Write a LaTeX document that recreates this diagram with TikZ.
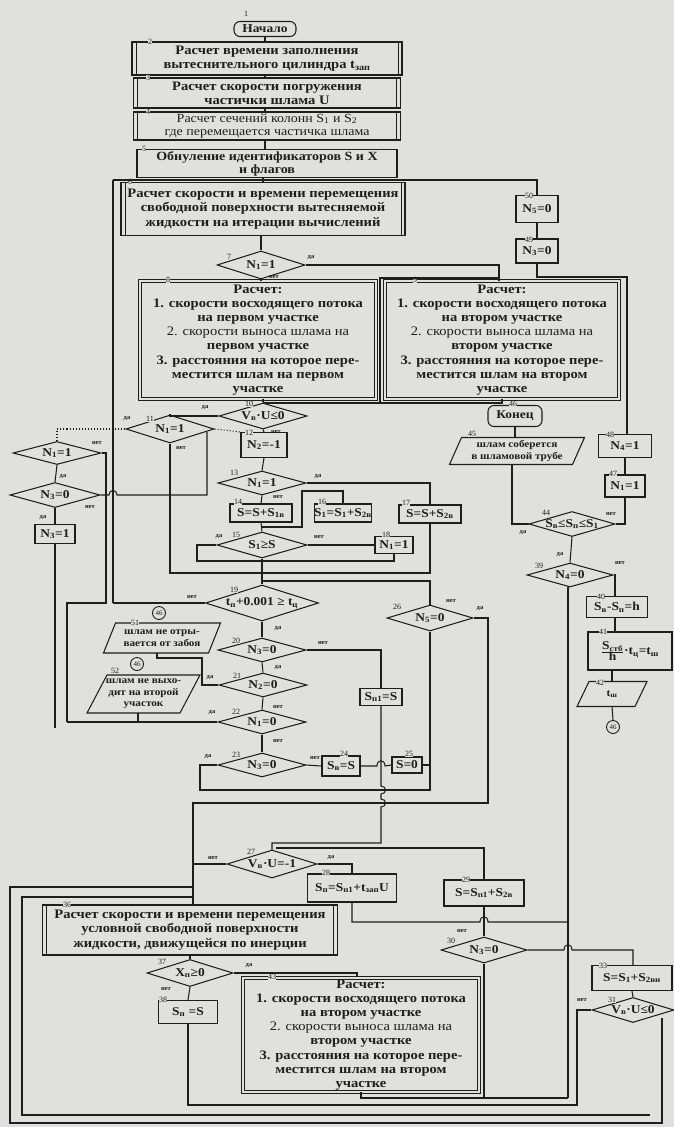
\documentclass[tikz,border=0pt]{standalone}
\usepackage{fontspec}
\setmainfont{Liberation Serif}
\newfontfamily\boxfont{Liberation Serif}[FakeStretch=1.12]
\usetikzlibrary{shapes.geometric}
\newcommand\sbs[1]{\textsubscript{#1}}
\definecolor{bg}{RGB}{224,224,220}
\definecolor{ink}{RGB}{30,30,30}
\tikzset{
  ln/.style={draw=ink, line width=1.05pt},
  tx/.style={font=\boxfont\fontsize{12}{13.5}\selectfont\bfseries, align=center, text=ink, inner sep=0pt},
  bigtx/.style={font=\boxfont\fontsize{13}{14.2}\selectfont\bfseries},
  smtx/.style={font=\boxfont\fontsize{10}{11.5}\selectfont\bfseries, align=center, text=ink, inner sep=0pt},
  bx/.style={tx, draw=ink, line width=1.05pt},
  pbx/.style={bx, bigtx, path picture={\draw[ink,line width=0.9pt]
     ([xshift=4pt]path picture bounding box.north west) -- ([xshift=4pt]path picture bounding box.south west)
     ([xshift=-4pt]path picture bounding box.north east) -- ([xshift=-4pt]path picture bounding box.south east);}},
  dbx/.style={tx, bigtx, draw=ink, double=bg, double distance=2.2pt, line width=0.9pt},
  dia/.style={diamond, draw=ink, line width=1.05pt, inner sep=0pt},
  num/.style={font=\fontsize{8}{8}\selectfont, text=ink, inner sep=0.4pt, fill=bg},
  yn/.style={font=\fontsize{6.5}{7}\selectfont\bfseries, text=ink, inner sep=0pt},
  conn/.style={circle, draw=ink, line width=0.9pt, inner sep=0pt, minimum size=13pt, font=\fontsize{7}{7}\selectfont, text=ink},
}
\newcommand\para[7]{% name, x, y, w, h, skew, text
  \node[smtx] (#1) at (#2,#3) {#7};
  \draw[ln] ({#2-#4/2+#6},{#3-#5/2}) -- ({#2+#4/2},{#3-#5/2}) -- ({#2+#4/2-#6},{#3+#5/2}) -- ({#2-#4/2},{#3+#5/2}) -- cycle;
  \coordinate (#1-t) at (#2,{#3-#5/2});
  \coordinate (#1-b) at (#2,{#3+#5/2});
}
\begin{document}
\begin{tikzpicture}[x=1pt,y=-1pt]
\fill[bg] (0,0) rectangle (674,1127);
\useasboundingbox (0,0) rectangle (674,1127);

% ---------- top chain ----------
\node[bx, rounded corners=6pt, minimum width=62pt, minimum height=15pt] (n1) at (265,29) {Начало};
\node[num] at (246,14) {1};
\node[pbx, minimum width=270pt, minimum height=33pt] (b2) at (267,58.5) {Расчет времени заполнения\\вытеснительного цилиндра t\sbs{зап}};
\node[num] at (150,42) {2};
\node[pbx, minimum width=267pt, minimum height=30pt] (b3) at (267,93) {Расчет скорости погружения\\частички шлама U};
\node[num] at (148,78) {3};
\node[pbx, font=\boxfont\fontsize{12.5}{13.5}\selectfont\mdseries, minimum width=267pt, minimum height=28pt] (b4) at (267,126) {Расчет сечений колонн S\sbs{1} и S\sbs{2}\\где перемещается частичка шлама};
\node[num] at (148,112) {4};
\node[bx, font=\boxfont\fontsize{12.5}{13}\selectfont\bfseries, minimum width=260pt, minimum height=28pt] (b5) at (267,163.5) {Обнуление идентификаторов S и X\\и флагов};
\node[num] at (144,149) {5};
\node[pbx, minimum width=284pt, minimum height=53pt] (b6) at (263,209) {Расчет скорости и времени перемещения\\свободной поверхности вытесняемой\\жидкости на итерации вычислений};
\node[num] at (130,182) {6};

\draw[ln] (n1.south) -- (n1.south |- b2.north);
\draw[ln] (265,75) -- (265,78);
\draw[ln] (265,108) -- (265,112);
\draw[ln] (265,140) -- (265,149.5);
\draw[ln] (263,177.5) -- (263,182.5);

% right top column
\node[bx, minimum width=42pt, minimum height=27pt] (b50) at (537,209) {N\sbs{5}=0};
\node[num] at (529,196) {50};
\node[bx, minimum width=42pt, minimum height=24pt] (b49) at (537,251) {N\sbs{3}=0};
\node[num] at (529,240) {49};
\coordinate (lt) at (113,180);
\coordinate (rt) at (537,180);
\draw[ln] (lt) -- (rt) -- (b50.north);
\draw[ln] (b50.south) -- (b49.north);

% ---------- diamond 7 and boxes 8, 9 ----------
\node[dia, minimum width=88pt, minimum height=28pt] (d7) at (261,265) {};
\node[tx] at (d7) {N\sbs{1}=1};
\node[num] at (229,257) {7};
\node[yn] at (311,258) {да};
\node[yn] at (274,277) {нет};
\draw[ln] (b6.south -| d7.north) -- (d7.north);

\node[dbx, minimum width=236pt, minimum height=118pt] (b8) at (258,340) {Расчет:\\1. скорости восходящего потока\\на первом участке\\{\mdseries 2. скорости выноса шлама на}\\первом участке\\3. расстояния на которое пере-\\местится шлам на первом\\участке};
\node[num] at (168,280) {8};
\node[dbx, minimum width=234pt, minimum height=118pt] (b9) at (502,340) {Расчет:\\1. скорости восходящего потока\\на втором участке\\{\mdseries 2. скорости выноса шлама на}\\втором участке\\3. расстояния на которое пере-\\местится шлам на втором\\участке};
\node[num] at (415,280) {9};

\draw[ln] (d7.south) -- (d7.south |- b8.north);
\draw[ln] (d7.east) -- (499,265) -- (499,281);
\draw[ln] (499,278) -- (380,278) -- (380,403);
\draw[ln] (b49.south) -- (537,277) -- (627,277) -- (627,434.5);

% ---------- diamond 10, 11, left column ----------
\node[dia, minimum width=88pt, minimum height=26pt] (d10) at (263,416) {};
\node[tx] at (d10) {V\sbs{в}·U≤0};
\node[num] at (249,404) {10};
\node[yn] at (205,408) {да};
\node[yn] at (276,432) {нет};
\draw[ln] (263,399) -- (d10.north);
\draw[ln] (b9.south) -- (502,403) -- (263,403);

\node[dia, minimum width=88pt, minimum height=28pt] (d11) at (170,429) {};
\node[tx] at (d11) {N\sbs{1}=1};
\node[num] at (150,419) {11};
\node[yn] at (127,419) {да};
\node[yn] at (181,448) {нет};
\draw[ln] (d10.west) -| (d11.north);

\node[bx, minimum width=46pt, minimum height=25pt] (b12) at (264,445) {N\sbs{2}=-1};
\node[num] at (249,433) {12};
\draw[ln] (d10.south) -- (b12.north);
\draw[ln, dotted] (d11.east) -- (b12.north west);

\node[dia, minimum width=88pt, minimum height=23pt] (dA) at (57,453) {};
\node[tx] at (dA) {N\sbs{1}=1};
\node[yn] at (97,443) {нет};
\node[dia, minimum width=90pt, minimum height=25pt] (dB) at (55,495) {};
\node[tx] at (dB) {N\sbs{3}=0};
\node[yn] at (63,477) {да};
\node[yn] at (90,507) {нет};
\node[yn] at (43,518) {да};
\node[bx, minimum width=40pt, minimum height=19pt] (bN) at (55,534) {N\sbs{3}=1};
\draw[ln, dotted] (d11.west) -- (57,429) -- (dA.north);
\draw[ln] (dA.south) -- (dB.north);
\draw[ln] (dB.south) -- (bN.north);
\draw[ln] (bN.south) -- (55,728);
\draw[ln] (dA.east) -- (106,453) -- (106,603) -- (67,603) -- (67,722);
\draw[ln] (dB.east) -- (109,495) .. controls (109,489) and (117,489) .. (117,495) -- (207,495) -- (207,432);
\draw[ln] (lt) -- (113,603);

% ---------- diamonds 13, 15 and boxes 14, 16, 17, 18 ----------
\node[dia, minimum width=88pt, minimum height=24pt] (d13) at (262,483) {};
\node[tx] at (d13) {N\sbs{1}=1};
\node[num] at (234,473) {13};
\node[yn] at (318,477) {да};
\node[yn] at (278,497) {нет};
\draw[ln] (b12.south) -- (d13.north);

\node[bx, minimum width=62pt, minimum height=18pt] (b14) at (261,513) {S=S+S\sbs{1в}};
\node[num] at (238,502) {14};
\node[bx, minimum width=56pt, minimum height=18pt] (b16) at (343,513) {S\sbs{1}=S\sbs{1}+S\sbs{2в}};
\node[num] at (322,502) {16};
\node[bx, minimum width=62pt, minimum height=18pt] (b17) at (430,514) {S=S+S\sbs{2в}};
\node[num] at (406,503) {17};
\draw[ln] (d13.south) -- (b14.north);
\draw[ln] (d13.east) -- (430,483) -- (b17.north);
\draw[ln] (262,527) -- (302,527) -- (302,491) -- (343,491) -- (b16.north);

\node[dia, minimum width=90pt, minimum height=26pt] (d15) at (262,545) {};
\node[tx] at (d15) {S\sbs{1}≥S};
\node[num] at (236,535) {15};
\node[yn] at (219,537) {да};
\node[yn] at (319,537) {нет};
\draw[ln] (b14.south) -- (d15.north);
\node[bx, minimum width=38pt, minimum height=17pt] (b18) at (394,545) {N\sbs{1}=1};
\node[num] at (386,535) {18};
\draw[ln] (d15.east) -- (b18.west);
\draw[ln] (b18.south) -- (394,561) -- (197,561) -- (197,545) -- (d15.west);

\draw[ln] (d11.south) -- (170,573) -- (430,573) -- (b17.south);
\draw[ln] (d15.south) -- (262,573);
\draw[ln] (262,581) -- (430,581) -- (430,605);

% ---------- diamonds 19 - 23 ----------
\node[dia, minimum width=113pt, minimum height=36pt] (d19) at (262,603) {};
\node[tx] at (d19) {t\sbs{п}+0.001 ≥ t\sbs{ц}};
\node[num] at (234,590) {19};
\node[yn] at (192,597) {нет};
\node[yn] at (278,629) {да};
\draw[ln] (262,573) -- (d19.north);
\draw[ln] (113,603) -- (d19.west);

\node[dia, minimum width=88pt, minimum height=24pt] (d20) at (262,650) {};
\node[tx] at (d20) {N\sbs{3}=0};
\node[num] at (236,641) {20};
\node[yn] at (323,643) {нет};
\node[yn] at (278,668) {да};
\draw[ln] (d19.south) -- (d20.north);

\node[bx, minimum width=42pt, minimum height=17pt] (bS) at (381,697) {S\sbs{п1}=S};
\draw[ln] (d20.east) -- (381,650) -- (bS.north);

\node[dia, minimum width=88pt, minimum height=24pt] (d21) at (263,685) {};
\node[tx] at (d21) {N\sbs{2}=0};
\node[num] at (237,676) {21};
\node[yn] at (210,678) {да};
\node[yn] at (278,707) {нет};
\draw[ln] (d20.south) -- (d21.north);

\para{p51}{162}{638}{117}{30}{12}{шлам не отры-\\вается от забоя}
\node[num] at (135,623) {51};
\node[conn] (c1) at (159,613) {46};
\draw[ln] (d21.west) -- (202,685) -- (202,658) -- (157,658) -- (157,653);

\para{p52}{143.5}{694}{113}{38}{20}{шлам не выхо-\\дит на второй\\участок}
\node[num] at (115,671) {52};
\node[conn] (c2) at (137,664) {46};

\node[dia, minimum width=88pt, minimum height=24pt] (d22) at (262,722) {};
\node[tx] at (d22) {N\sbs{1}=0};
\node[num] at (236,712) {22};
\node[yn] at (212,713) {да};
\node[yn] at (278,741) {нет};
\draw[ln] (d21.south) -- (d22.north);
\draw[ln] (67,722) -- (d22.west);
\draw[ln] (138,722) -- (138,713);

\node[dia, minimum width=88pt, minimum height=24pt] (d23) at (262,765) {};
\node[tx] at (d23) {N\sbs{3}=0};
\node[num] at (236,755) {23};
\node[yn] at (208,757) {да};
\node[yn] at (315,758) {нет};
\draw[ln] (d22.south) -- (d23.north);

\node[bx, minimum width=38pt, minimum height=20pt] (b24) at (341,766) {S\sbs{в}=S};
\node[num] at (344,754) {24};
\node[bx, minimum width=30pt, minimum height=16pt] (b25) at (407,765) {S=0};
\node[num] at (409,754) {25};
\draw[ln] (d23.east) -- (b24.west);
\draw[ln] (b24.east) -- (377,766) .. controls (377,759) and (385,759) .. (385,766) -- (b25.west);

% ---------- diamond 26 ----------
\node[dia, minimum width=86pt, minimum height=26pt] (d26) at (430,618) {};
\node[tx] at (d26) {N\sbs{5}=0};
\node[num] at (397,607) {26};
\node[yn] at (451,601) {нет};
\node[yn] at (480,609) {да};
\draw[ln] (d26.south) -- (430,790) -- (200,790) -- (200,765) -- (d23.west);
\draw[ln] (b25.east) -- (430,765);
\draw[ln] (d26.east) -- (488,618) -- (488,803) -- (193,803) -- (193,905);
\draw[ln] (bS.south) -- (381,786) .. controls (387,786) and (387,794) .. (381,794) -- (381,799) .. controls (387,799) and (387,807) .. (381,807) -- (381,843) -- (272,843) -- (272,850);

% ---------- diamond 27, boxes 28, 29, diamond 30 ----------
\node[dia, minimum width=90pt, minimum height=28pt] (d27) at (272,864) {};
\node[tx] at (d27) {V\sbs{в}·U=-1};
\node[num] at (251,852) {27};
\node[yn] at (213,858) {нет};
\node[yn] at (331,858) {да};
\draw[ln] (d27.west) -- (193,864);
\draw[ln] (276,848) -- (484,848) -- (484,880);

\node[bx, minimum width=89pt, minimum height=28pt] (b28) at (352,888) {S\sbs{п}=S\sbs{п1}+t\sbs{зап}U};
\node[num] at (326,873) {28};
\draw[ln] (d27.east) -- (352,864) -- (b28.north);

\node[bx, minimum width=80pt, minimum height=26pt] (b29) at (484,893) {S=S\sbs{п1}+S\sbs{2в}};
\node[num] at (466,880) {29};
\node[dia, minimum width=86pt, minimum height=26pt] (d30) at (484,950) {};
\node[tx] at (d30) {N\sbs{3}=0};
\node[num] at (451,941) {30};
\node[yn] at (462,931) {нет};
\draw[ln] (b29.south) -- (d30.north);
\draw[ln] (b28.south) -- (352,922) -- (480,922) .. controls (480,915) and (488,915) .. (488,922) -- (568,922);

\node[bx, minimum width=80pt, minimum height=25pt] (b33) at (632,978) {S=S\sbs{1}+S\sbs{2вн}};
\node[num] at (603,966) {33};
\draw[ln] (d30.east) -- (564,950) .. controls (564,943) and (572,943) .. (572,950) -- (633,950) -- (633,965.5);
\node[dia, minimum width=82pt, minimum height=25pt] (d31) at (633,1010) {};
\node[tx] at (d31) {V\sbs{в}·U≤0};
\node[num] at (612,1000) {31};
\node[yn] at (582,1000) {нет};
\draw[ln] (b33.south) -- (d31.north);

% ---------- box 36, 37, 38, 43 ----------
\node[pbx, minimum width=295pt, minimum height=50pt] (b36) at (190,930) {Расчет скорости и времени перемещения\\условной свободной поверхности\\жидкости, движущейся по инерции};
\node[num] at (67,905) {36};
\draw[ln] (193,887) -- (10,887) -- (10,1123) -- (662,1123) -- (662,1018);
\draw[ln] (193,897) -- (22,897) -- (22,1115) -- (650,1115);

\node[dia, minimum width=86pt, minimum height=27pt] (d37) at (190,973) {};
\node[tx] at (d37) {X\sbs{п}≥0};
\node[num] at (162,962) {37};
\node[yn] at (249,966) {да};
\node[yn] at (166,989) {нет};
\draw[ln] (b36.south) -- (d37.north);

\node[bx, minimum width=59pt, minimum height=23pt] (b38) at (188,1012) {S\sbs{п}\ =S};
\node[num] at (163,1000) {38};
\draw[ln] (d37.south) -- (b38.north);

\node[dbx, minimum width=236pt, minimum height=114pt] (b43) at (361,1035) {Расчет:\\1. скорости восходящего потока\\на втором участке\\{\mdseries 2. скорости выноса шлама на}\\втором участке\\3. расстояния на которое пере-\\местится шлам на втором\\участке};
\node[num] at (272,977) {43};
\draw[ln] (d37.east) -- (357,973) -- (357,976);
\draw[ln] (b38.south) -- (188,1105) -- (577,1105) -- (577,1010) -- (d31.west);
\draw[ln] (b43.south) -- (361,1098) -- (568,1098);
\draw[ln] (d30.south) -- (484,1098);

% ---------- right column ----------
\node[bx, rounded corners=6pt, minimum width=54pt, minimum height=21pt] (kon) at (515,416) {Конец};
\node[num] at (513,404) {46};
\para{p45}{517}{451}{135}{27}{12}{шлам соберется\\в шламовой трубе}
\node[num] at (472,434) {45};
\draw[ln] (kon.south) -- (p45-t -| kon.south);
\draw[ln] (512,464.5) -- (512,524) -- (529,524);

\node[bx, minimum width=53pt, minimum height=23pt] (b48) at (625,446) {N\sbs{4}=1};
\node[num] at (610,435) {48};
\node[bx, minimum width=40pt, minimum height=22pt] (b47) at (625,486) {N\sbs{1}=1};
\node[num] at (613,474) {47};
\draw[ln] (b48.south) -- (b47.north);

\node[dia, minimum width=86pt, minimum height=25pt] (d44) at (572,524) {};
\node[tx] at (d44) {S\sbs{в}≤S\sbs{п}≤S\sbs{1}};
\node[num] at (546,513) {44};
\node[yn] at (523,533) {да};
\node[yn] at (611,514) {нет};
\draw[ln] (b47.south) -- (625,524) -- (d44.east);

\node[dia, minimum width=86pt, minimum height=24pt] (d39) at (570,575) {};
\node[tx] at (d39) {N\sbs{4}=0};
\node[num] at (539,566) {39};
\node[yn] at (560,555) {да};
\node[yn] at (620,563) {нет};
\draw[ln] (d44.south) -- (d39.north);
\draw[ln] (568,587) -- (568,1098);

\node[bx, minimum width=61pt, minimum height=21pt] (b40) at (617,607) {S\sbs{в}-S\sbs{п}=h};
\node[num] at (601,597) {40};
\draw[ln] (d39.east) -- (615,575) -- (615,596.5);
\node[bx, minimum width=84pt, minimum height=38pt] (b41) at (630,651) {$\frac{\hbox{S\sbs{стб}}}{\hbox{h}}$·t\sbs{ц}=t\sbs{ш}};
\node[num] at (603,632) {41};
\draw[ln] (615,617.5) -- (615,632);
\para{p42}{612}{694}{70}{25}{12}{t\sbs{ш}}
\node[num] at (600,683) {42};
\draw[ln] (612,670) -- (p42-t);
\node[conn] (c3) at (613,727) {46};
\draw[ln] (p42-b) -- (c3.north);
\end{tikzpicture}
\end{document}
